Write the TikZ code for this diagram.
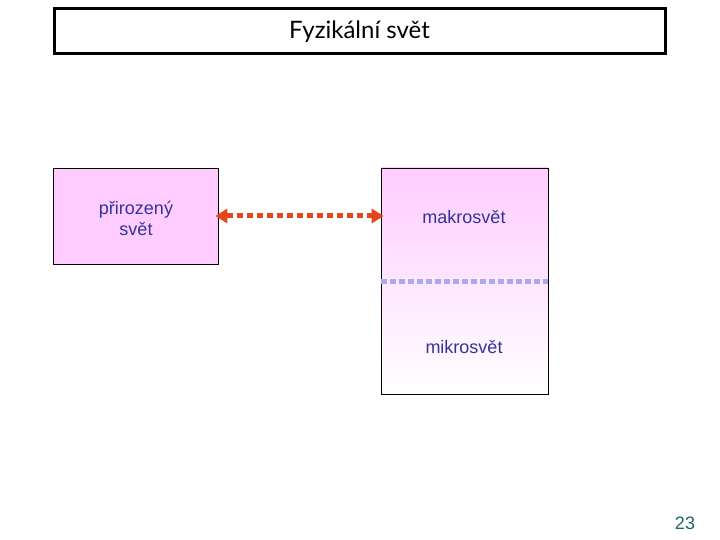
\documentclass[tikz,border=0pt]{standalone}
\usepackage{fontspec}
\setmainfont{Liberation Sans}
\newfontfamily\titlefont{Lato}
\usepackage{tikz}
\usetikzlibrary{arrows.meta,positioning}
\definecolor{figline}{RGB}{0,0,0}
\definecolor{boxpink}{RGB}{255,204,255}
\definecolor{txtblue}{RGB}{51,51,153}
\definecolor{linkred}{RGB}{230,70,30}
\definecolor{splitlav}{RGB}{170,170,235}
\definecolor{pagenum}{RGB}{30,100,110}
\tikzset{
  titlebox/.style ={draw=figline, line width=3pt, minimum width=611pt, minimum height=45pt, inner sep=0pt, font=\titlefont\fontsize{24}{28}\selectfont},
  worldbox/.style ={draw=figline, line width=0.6pt, inner sep=0pt},
  lab/.style      ={text=txtblue, font=\fontsize{18}{21}\selectfont, align=center, inner sep=1pt},
  link/.style     ={draw=linkred, line width=5pt, dash pattern=on 6pt off 4pt, {Triangle[length=12pt,width=14pt,sep=-3pt]}-{Triangle[length=12pt,width=14pt,sep=-3pt]}},
  split/.style    ={draw=splitlav, line width=5pt, dash pattern=on 6pt off 3pt},
}
\begin{document}
\begin{tikzpicture}[x=1pt,y=-1pt]
  \useasboundingbox (0,0) rectangle (720,540);
  % title bar
  \node[titlebox] (title) at (359.5,31.5) {Fyzikální svět};
  % natural world
  \node[worldbox, fill=boxpink, minimum width=165pt, minimum height=96pt] (natural) at (135.5,216) {};
  \node[lab] (naturaltxt) at (136,218) {přirozený\\svět};
  % macro / micro world
  \shade[top color=boxpink, bottom color=white] (381,168) rectangle (548,394);
  \node[worldbox, minimum width=167pt, minimum height=226pt] (world) at (464.5,281) {};
  \coordinate (splitw) at (world.west);
  \coordinate (splite) at (world.east);
  \draw[split] (splitw) -- (splite);
  \node[lab] (macro) at (464,217) {makrosvět};
  \node[lab] (micro) at (464,347) {mikrosvět};
  % link
  \coordinate (linkend) at (world.west |- natural.east);
  \draw[link] (natural.east) -- (linkend);
  % page number
  \node[lab, text=pagenum] (page) at (685,523) {23};
\end{tikzpicture}
\end{document}
